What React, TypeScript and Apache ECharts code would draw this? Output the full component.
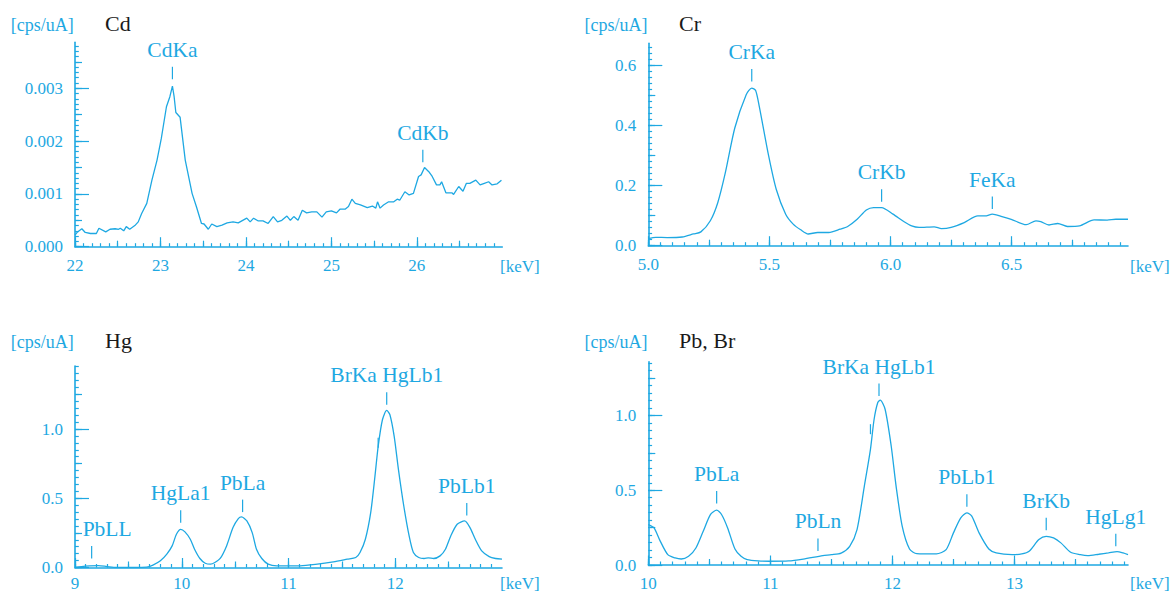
import React, { useEffect, useRef } from "react";
import * as echarts from "echarts";

const BLUE = "#1ea8e2";
const FONT = "Liberation Serif";

// ---------- Cd panel ----------
const cdEnergy = [
  22.0, 22.03, 22.08, 22.12, 22.18, 22.25, 22.28, 22.36, 22.41, 22.47,
  22.51, 22.53, 22.57, 22.6, 22.64, 22.7, 22.74, 22.78, 22.84, 22.9,
  22.96, 23.01, 23.07, 23.11, 23.14, 23.16, 23.18, 23.23, 23.29, 23.37,
  23.42, 23.48, 23.51, 23.56, 23.6, 23.66, 23.72, 23.78, 23.85, 23.91,
  24.01, 24.05, 24.09, 24.14, 24.2, 24.26, 24.32, 24.37, 24.42, 24.48,
  24.52, 24.56, 24.61, 24.66, 24.71, 24.77, 24.83, 24.89, 24.94, 25.0,
  25.06, 25.1, 25.16, 25.2, 25.24, 25.28, 25.34, 25.42, 25.48, 25.52,
  25.54, 25.57, 25.61, 25.67, 25.73, 25.77, 25.8, 25.86, 25.91, 25.96,
  26.02, 26.05, 26.09, 26.14, 26.18, 26.23, 26.27, 26.29, 26.34, 26.41,
  26.43, 26.49, 26.54, 26.58, 26.62, 26.69, 26.74, 26.79, 26.84, 26.88,
  26.94, 26.99,
];
const cdCounts = [
  0.00022, 0.00028, 0.00034, 0.00027, 0.00025, 0.00025, 0.00035, 0.00028, 0.00033, 0.00034,
  0.00033, 0.00035, 0.0003, 0.00038, 0.00033, 0.0004, 0.00047, 0.00063, 0.00082, 0.00126,
  0.00164, 0.00205, 0.00265, 0.00284, 0.00304, 0.00284, 0.00254, 0.00245, 0.00164, 0.00101,
  0.00076, 0.00044, 0.00043, 0.00033, 0.00043, 0.00038, 0.00041, 0.00045, 0.00047, 0.00045,
  0.00054, 0.00047, 0.00054, 0.00049, 0.00049, 0.00044, 0.00057, 0.00047, 0.0005, 0.00058,
  0.0005, 0.00057, 0.0005, 0.00069, 0.00064, 0.00066, 0.00066, 0.00056, 0.00066, 0.00068,
  0.00064, 0.00071, 0.00071, 0.00076, 0.0009, 0.00082, 0.00079, 0.00074, 0.00077, 0.00073,
  0.00085, 0.00073, 0.00079, 0.00085, 0.00085, 0.0009, 0.00088, 0.00104, 0.00098, 0.00101,
  0.00133, 0.00136, 0.0015, 0.00142, 0.00133, 0.00117, 0.00117, 0.00123, 0.00102, 0.00102,
  0.00099, 0.00114, 0.00105, 0.0012, 0.0012, 0.00126, 0.00117, 0.0012, 0.00123, 0.00117,
  0.00119, 0.00126,
];
const cdPeakNames = ["CdKa", "CdKb"];
const cdPeakEnergy = [23.14, 26.07];
const cdPeakLevel = [0.00317, 0.0016];

// ---------- Cr panel ----------
const crEnergy = [
  5.0, 5.031, 5.078, 5.14, 5.186, 5.217, 5.256, 5.287, 5.318, 5.357,
  5.404, 5.427, 5.443, 5.458, 5.497, 5.528, 5.567, 5.598, 5.629, 5.66,
  5.699, 5.745, 5.792, 5.823, 5.862, 5.9, 5.93, 5.963, 6.01, 6.056,
  6.087, 6.118, 6.18, 6.21, 6.25, 6.304, 6.36, 6.39, 6.42, 6.46,
  6.498, 6.56, 6.6, 6.62, 6.654, 6.69, 6.73, 6.78, 6.84, 6.894,
  6.93, 6.98,
];
const crCounts = [
  0.024, 0.028, 0.027, 0.029, 0.039, 0.046, 0.083, 0.144, 0.243, 0.392,
  0.503, 0.525, 0.517, 0.464, 0.298, 0.188, 0.105, 0.072, 0.053, 0.039,
  0.044, 0.044, 0.055, 0.064, 0.088, 0.119, 0.127, 0.127, 0.105, 0.08,
  0.066, 0.061, 0.063, 0.057, 0.061, 0.077, 0.099, 0.099, 0.105, 0.097,
  0.088, 0.07, 0.083, 0.08, 0.069, 0.074, 0.064, 0.066, 0.086, 0.085,
  0.088, 0.088,
];
const crPeakNames = ["CrKa", "CrKb", "FeKa"];
const crPeakEnergy = [5.427, 5.963, 6.42];
const crPeakLevel = [0.547, 0.146, 0.122];

// ---------- Hg panel ----------
const hgEnergy = [
  9.0, 9.06, 9.14, 9.22, 9.3, 9.39, 9.55, 9.67, 9.73, 9.8,
  9.86, 9.91, 9.95, 9.99, 10.03, 10.08, 10.12, 10.17, 10.22, 10.27,
  10.31, 10.36, 10.42, 10.48, 10.53, 10.56, 10.61, 10.66, 10.7, 10.75,
  10.81, 10.89, 11.02, 11.11, 11.27, 11.42, 11.55, 11.63, 11.67, 11.72,
  11.77, 11.81, 11.84, 11.88, 11.92, 11.95, 11.99, 12.03, 12.08, 12.13,
  12.17, 12.22, 12.27, 12.31, 12.36, 12.42, 12.47, 12.52, 12.58, 12.65,
  12.7, 12.75, 12.81, 12.88, 12.94, 13.0,
];
const hgCounts = [
  0, 0.007, 0.012, 0.014, 0.007, 0, 0, 0.002, 0.017, 0.048,
  0.096, 0.156, 0.24, 0.276, 0.257, 0.204, 0.132, 0.065, 0.031, 0.024,
  0.036, 0.065, 0.156, 0.288, 0.353, 0.365, 0.336, 0.252, 0.132, 0.065,
  0.024, 0.012, 0.012, 0.012, 0.024, 0.041, 0.06, 0.072, 0.108, 0.204,
  0.396, 0.66, 0.875, 1.067, 1.134, 1.103, 0.947, 0.707, 0.444, 0.228,
  0.108, 0.072, 0.065, 0.07, 0.065, 0.084, 0.132, 0.228, 0.312, 0.336,
  0.288, 0.204, 0.12, 0.079, 0.065, 0.06,
];
const hgPeakNames = ["PbLL", "HgLa1", "PbLa", "BrKa HgLb1", "", "PbLb1"];
const hgPeakEnergy = [9.156, 9.99, 10.57, 11.92, 11.84, 12.67];
const hgPeakLevel = [0.065, 0.324, 0.4, 1.175, 0.865, 0.376];

// ---------- Pb, Br panel ----------
const pbEnergy = [
  10.0, 10.047, 10.093, 10.16, 10.22, 10.27, 10.33, 10.39, 10.45, 10.51,
  10.56, 10.6, 10.65, 10.71, 10.76, 10.81, 10.9, 10.99, 11.15, 11.27,
  11.43, 11.5, 11.58, 11.65, 11.71, 11.77, 11.82, 11.85, 11.88, 11.9,
  11.94, 11.99, 12.03, 12.08, 12.14, 12.2, 12.36, 12.44, 12.5, 12.56,
  12.61, 12.65, 12.71, 12.79, 12.85, 12.98, 13.06, 13.12, 13.2, 13.26,
  13.32, 13.38, 13.46, 13.54, 13.6, 13.69, 13.77, 13.84, 13.89, 13.93,
];
const pbCounts = [
  0.27, 0.248, 0.168, 0.069, 0.047, 0.04, 0.058, 0.114, 0.226, 0.338,
  0.367, 0.338, 0.248, 0.107, 0.058, 0.036, 0.027, 0.025, 0.027, 0.04,
  0.063, 0.069, 0.08, 0.125, 0.237, 0.528, 0.774, 0.975, 1.087, 1.103,
  1.042, 0.796, 0.528, 0.26, 0.107, 0.076, 0.074, 0.103, 0.215, 0.315,
  0.349, 0.327, 0.215, 0.107, 0.081, 0.069, 0.074, 0.092, 0.17, 0.192,
  0.181, 0.148, 0.085, 0.069, 0.063, 0.072, 0.081, 0.09, 0.081, 0.069,
];
const pbPeakNames = ["PbLa", "PbLn", "BrKa HgLb1", "", "PbLb1", "BrKb", "HgLg1"];
const pbPeakEnergy = [10.56, 11.39, 11.89, 11.82, 12.61, 13.26, 13.83];
const pbPeakLevel = [0.412, 0.094, 1.13, 0.875, 0.389, 0.233, 0.125];

const panelTitles = ["Cd", "Cr", "Hg", "Pb, Br"];
const unitY = "[cps/uA]";
const unitX = "[keV]";
const LEFT_ANCHORED = new Set(["PbLL"]);

const panels = [
  { energy: cdEnergy, counts: cdCounts, names: cdPeakNames, peakE: cdPeakEnergy, peakV: cdPeakLevel },
  { energy: crEnergy, counts: crCounts, names: crPeakNames, peakE: crPeakEnergy, peakV: crPeakLevel },
  { energy: hgEnergy, counts: hgCounts, names: hgPeakNames, peakE: hgPeakEnergy, peakV: hgPeakLevel },
  { energy: pbEnergy, counts: pbCounts, names: pbPeakNames, peakE: pbPeakEnergy, peakV: pbPeakLevel },
];

// layout / axis specs
const layout = [
  { left: 75, top: 42.3, width: 427.3, height: 204.4, xMin: 22, xMax: 27, xMajor: 1, xMinor: 0.1, xDec: 0,
    yMax: 0.00387, yMajor: 0.001, yMinor: 0.0001, yDec: 3, xMargin: 19, unitLeft: 10.7, titleLeft: 105, headY: 24, kevLeft: 500, kevY: 266, smooth: false },
  { left: 648.3, top: 43.3, width: 479.7, height: 202.4, xMin: 5, xMax: 6.98, xMajor: 0.5, xMinor: 0.05, xDec: 1,
    yMax: 0.674, yMajor: 0.2, yMinor: 0.02, yDec: 1, xMargin: 19, unitLeft: 584.5, titleLeft: 679, headY: 24, kevLeft: 1130, kevY: 266, smooth: 0.25 },
  { left: 75, top: 366, width: 427, height: 202, xMin: 9, xMax: 13, xMajor: 1, xMinor: 0.1, xDec: 0,
    yMax: 1.455, yMajor: 0.5, yMinor: 0.05, yDec: 1, xMargin: 16, unitLeft: 10.7, titleLeft: 105, headY: 341, kevLeft: 500, kevY: 583.5, smooth: 0.25 },
  { left: 648.3, top: 361.7, width: 479.7, height: 203.8, xMin: 10, xMax: 13.93, xMajor: 1, xMinor: 0.1, xDec: 0,
    yMax: 1.36, yMajor: 0.5, yMinor: 0.05, yDec: 1, xMargin: 18.5, unitLeft: 584.5, titleLeft: 679, headY: 341, kevLeft: 1130, kevY: 583.5, smooth: 0.25 },
];

const tickValues = (min: number, max: number, step: number) => {
  const out: number[] = [];
  for (let i = 0; i < 1000; i++) {
    const v = +(min + i * step).toFixed(8);
    if (v >= max - 1e-12) break;
    out.push(v);
  }
  return out;
};

function buildAxes(kind: "x" | "y", g: number, L: any) {
  const min = kind === "x" ? L.xMin : 0;
  const max = kind === "x" ? L.xMax : L.yMax;
  const major = kind === "x" ? L.xMajor : L.yMajor;
  const minor = kind === "x" ? L.xMinor : L.yMinor;
  const dec = kind === "x" ? L.xDec : L.yDec;
  const lens = kind === "x" ? [9.5, 6, 3.5] : [14, 7, 3.8];
  const steps = [major, major / 2, minor];
  const position = kind === "x" ? "bottom" : "left";
  return steps.map((step, k) => {
    const vals = tickValues(min, max, step);
    return {
      type: "value",
      gridIndex: g,
      position,
      min,
      max,
      splitLine: { show: false },
      axisLine: { show: k === 0, onZero: false, lineStyle: { color: BLUE, width: 1.6 } },
      axisTick: { show: true, inside: true, length: lens[k], customValues: vals, lineStyle: { color: BLUE, width: 1.2 } },
      axisLabel: k === 0
        ? {
            show: true,
            customValues: vals,
            formatter: (v: number) => v.toFixed(dec),
            color: BLUE,
            fontFamily: FONT,
            fontSize: 17,
            margin: kind === "x" ? L.xMargin : 12,
            verticalAlign: "middle",
          }
        : { show: false },
    };
  });
}

function annotationSeries(p: any, g: number) {
  return {
    type: "custom",
    xAxisIndex: g * 3,
    yAxisIndex: g * 3,
    silent: true,
    z: 5,
    data: p.peakE.map((e: number, i: number) => [e, p.peakV[i]]),
    renderItem: (params: any, api: any) => {
      const i = params.dataIndex;
      const pt = api.coord([api.value(0), api.value(1)]);
      const name = p.names[i];
      const len = name ? 12.5 : 10;
      const children: any[] = [
        {
          type: "line",
          shape: { x1: pt[0], y1: pt[1], x2: pt[0], y2: pt[1] - len },
          style: { stroke: BLUE, lineWidth: 1.2 },
        },
      ];
      if (name) {
        const leftAnchored = LEFT_ANCHORED.has(name);
        children.push({
          type: "text",
          x: pt[0] + (leftAnchored ? -9 : 0),
          y: pt[1] - len - 17,
          style: {
            text: name,
            fill: BLUE,
            fontFamily: FONT,
            fontSize: 21.5,
            align: leftAnchored ? "left" : "center",
            verticalAlign: "middle",
          },
        });
      }
      return { type: "group", children };
    },
  };
}

export default function App() {
  const ref = useRef<HTMLDivElement>(null);
  useEffect(() => {
    if (!ref.current) return;
    const chart = echarts.init(ref.current, undefined, { renderer: "svg" });
    const grids = layout.map((L) => ({ left: L.left, top: L.top, width: L.width, height: L.height, containLabel: false }));
    const xAxis: any[] = [];
    const yAxis: any[] = [];
    layout.forEach((L, g) => {
      xAxis.push(...buildAxes("x", g, L));
      yAxis.push(...buildAxes("y", g, L));
    });
    const series: any[] = [];
    panels.forEach((p, g) => {
      series.push({
        type: "line",
        xAxisIndex: g * 3,
        yAxisIndex: g * 3,
        data: p.energy.map((e, i) => [e, p.counts[i]]),
        showSymbol: false,
        symbol: "none",
        smooth: layout[g].smooth,
        lineStyle: { color: BLUE, width: 1.3 },
        silent: true,
      });
      series.push(annotationSeries(p, g));
    });
    const graphic: any[] = [];
    const txt = (text: string, x: number, y: number, size: number, fill: string) => ({
      type: "text",
      x,
      y,
      style: { text, fill, fontFamily: FONT, fontSize: size, align: "left", verticalAlign: "middle" },
    });
    layout.forEach((L, g) => {
      graphic.push(txt(unitY, L.unitLeft, L.headY + 1, 18, BLUE));
      graphic.push(txt(panelTitles[g], L.titleLeft, L.headY - 1, 22, "#1a1a1a"));
      graphic.push(txt(unitX, L.kevLeft, L.kevY, 17, BLUE));
    });
    chart.setOption({
      animation: false,
      backgroundColor: "#ffffff",
      textStyle: { fontFamily: FONT },
      grid: grids,
      xAxis,
      yAxis,
      series,
      graphic,
    });
    return () => chart.dispose();
  }, []);
  return (
    <div
      ref={ref}
      style={{ position: "absolute", left: 0, top: 0, width: 1171, height: 592 }}
    />
  );
}
